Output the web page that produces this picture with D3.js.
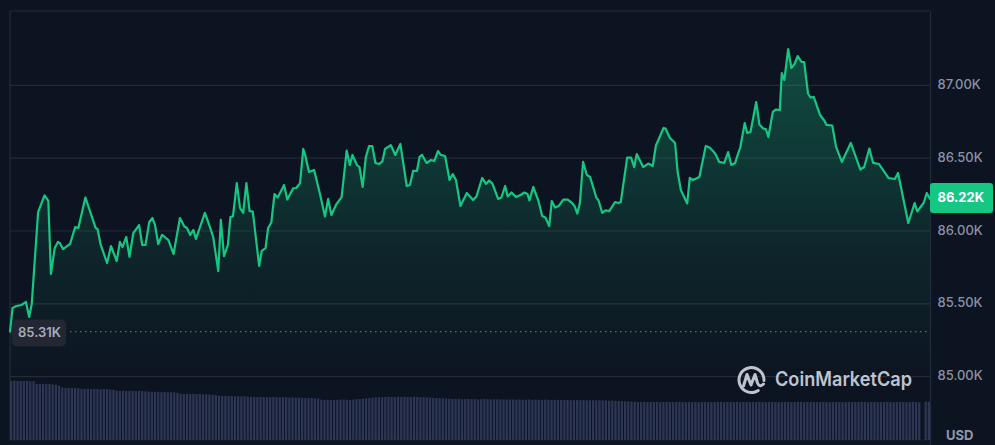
<!DOCTYPE html>
<html><head><meta charset="utf-8">
<script src="https://cdn.jsdelivr.net/npm/d3@7"></script>
<style>html,body{margin:0;padding:0;background:#0d1421;overflow:hidden}svg{display:block}</style>
</head><body>
<svg id="chart" width="995" height="445"></svg>
<script>
// time of each price sample (minutes since the start of the 24h window)
const times = [0,4,10,18,25,30,34,44,54,60,64,70,75,78,83,94,102,107,118,134,137,142,152,158,167,172,176,182,187,193,202,207,212,218,223,227,232,238,248,256,266,273,277,282,287,291,305,313,318,326,330,335,341,345,349,355,360,365,370,375,380,390,394,400,404,409,414,419,429,434,443,448,454,459,462,468,476,485,493,498,503,511,519,527,532,536,543,547,552,557,562,567,572,578,583,587,596,603,611,621,626,631,637,641,645,652,659,664,670,674,681,688,693,698,705,715,725,730,739,745,750,755,764,769,775,779,785,792,799,805,810,813,819,827,833,838,844,848,853,859,866,873,880,884,888,892,897,903,908,918,921,927,932,938,947,952,956,966,972,977,981,991,999,1006,1011,1023,1026,1033,1041,1045,1050,1060,1064,1069,1079,1089,1095,1101,1105,1110,1118,1124,1129,1135,1139,1143,1150,1154,1159,1168,1173,1179,1183,1187,1194,1199,1205,1208,1212,1218,1223,1228,1233,1239,1243,1249,1253,1258,1268,1275,1278,1287,1293,1302,1316,1331,1337,1345,1351,1360,1375,1385,1390,1406,1416,1420,1430,1435,1440];
// BTC price in USD
const prices = [85310,85472,85485,85492,85513,85410,85499,86130,86244,86206,85705,85883,85925,85918,85876,85911,86027,86021,86230,86021,86014,85904,85780,85897,85794,85925,85890,85959,85822,85986,86041,85904,85904,86062,86089,86041,85911,85973,85938,85842,86089,86031,86021,85973,86007,85945,86124,86027,85959,85725,86076,85828,85904,86096,86100,86329,86158,86124,86329,86137,86134,85760,85863,85883,86021,86058,86254,86230,86316,86216,86292,86295,86329,86563,86522,86405,86419,86257,86100,86220,86110,86185,86233,86552,86453,86522,86453,86439,86302,86508,86583,86583,86467,86460,86480,86563,86590,86522,86597,86309,86316,86412,86412,86508,86522,86467,86487,86480,86549,86522,86515,86350,86391,86350,86172,86261,86213,86237,86364,86323,86347,86326,86220,86230,86309,86237,86264,86233,86247,86264,86254,86209,86302,86209,86103,86093,86034,86206,86161,86172,86216,86216,86192,86168,86120,86192,86474,86384,86371,86226,86213,86124,86141,86137,86199,86192,86199,86504,86504,86439,86528,86439,86463,86446,86587,86707,86703,86638,86604,86405,86281,86189,86364,86350,86371,86583,86573,86546,86522,86474,86467,86542,86453,86467,86522,86573,86741,86673,86680,86885,86731,86703,86700,86645,86817,86834,86830,87084,87036,87249,87119,87146,87201,87160,87160,86944,86916,86920,86796,86755,86728,86724,86577,86474,86604,86422,86439,86566,86467,86460,86364,86357,86398,86055,86192,86134,86192,86261,86220];
// traded volume per 5-minute bar (billions USD, rolling)
const volumes = [39.3,39.5,39.2,39.4,39.3,39.4,39.1,39.3,
37.4,37.3,37.5,37.2,37.3,37.0,36.8,36.2,
34.9,34.7,34.8,34.6,34.7,34.5,
34.1,34.0,34.2,33.9,34.0,34.1,33.8,34.0,33.9,33.7,33.6,
32.9,32.7,32.8,32.6,32.7,32.8,32.5,32.7,32.6,32.4,32.3,
32.1,32.0,32.2,31.9,32.0,31.8,31.9,31.7,31.5,
30.9,30.7,30.8,30.6,30.7,30.5,30.6,30.4,30.5,30.3,30.2,30.0,
29.5,29.3,29.4,29.2,29.3,29.1,29.2,29.0,29.1,28.9,
28.8,28.7,28.6,28.8,28.7,28.5,28.6,28.7,28.5,28.4,28.6,28.5,28.3,28.4,28.2,28.3,
28.1,28.0,27.9,28.0,27.8,27.6,
26.9,26.7,26.8,26.6,26.7,26.8,26.9,27.0,26.8,26.7,26.9,27.1,27.3,27.5,27.8,28.0,28.2,28.4,28.5,28.6,
28.7,28.8,28.7,28.6,28.8,28.7,28.9,28.7,28.6,28.8,28.7,28.5,28.6,28.4,28.3,28.1,28.0,27.8,27.7,27.6,27.5,
27.4,27.3,27.4,27.2,27.3,27.4,27.2,27.3,27.1,27.2,27.3,27.1,27.0,27.2,27.1,27.0,
27.0,26.9,27.1,27.0,26.9,27.0,26.8,26.9,27.0,26.8,26.9,26.8,26.7,26.9,26.8,26.7,26.8,26.7,
26.7,26.6,26.7,26.5,26.6,26.7,26.5,26.6,26.4,26.5,26.6,26.4,26.5,26.3,26.4,26.2,26.3,26.1,26.0,25.9,25.8,25.7,25.6,25.5,25.4,
25.3,25.4,25.2,25.3,25.4,25.3,25.2,25.3,25.4,25.3,
25.2,25.3,25.4,25.3,25.2,25.3,25.3,25.4,25.2,25.3,
25.4,25.3,25.2,25.3,25.4,25.3,25.2,25.3,25.4,25.3,
25.3,25.2,25.3,25.4,25.3,25.2,25.3,25.4,25.3,25.2,
25.3,25.4,25.3,25.2,25.3,25.3,25.4,25.2,25.3,25.4,
25.3,25.2,25.3,25.4,25.3,25.2,25.3,25.4,25.3,25.2,
25.3,25.4,25.3,25.2,25.3,25.4,25.3,25.2,25.3,25.4,
25.3,25.2,25.3,25.4,25.3,25.2,25.3,25.4,25.3,25.2,
25.3,25.4,25.3,25.2,25.3,25.4,25.3,
25.1,0,25.6,25.6];
const priceTicks = [85000,85500,86000,86500,87000];
const currency = "USD";
const brand = "CoinMarketCap";

const svg = d3.select("#chart");
const W = 995, H = 445;
const L = 10, R = 930, T = 11, B = 440;

svg.append("rect").attr("width", W).attr("height", H).attr("fill", "#0d1421");

const x = d3.scaleLinear().domain([0, 1440]).range([L, R]);
const y = d3.scaleLinear().domain([85000, 87000]).range([376.7, 85.3]);
const xb = d3.scaleBand().domain(d3.range(volumes.length)).range([L, R]).paddingInner(0.3);
const yv = d3.scaleLinear().domain([0, 40]).range([B, 380]);

const defs = svg.append("defs");
const grad = defs.append("linearGradient").attr("id", "areaGrad")
  .attr("gradientUnits", "userSpaceOnUse").attr("x1", 0).attr("x2", 0).attr("y1", 50).attr("y2", 380);
grad.append("stop").attr("offset", 0).attr("stop-color", "#16c784").attr("stop-opacity", 0.32);
grad.append("stop").attr("offset", 0.6).attr("stop-color", "#16c784").attr("stop-opacity", 0.1);
grad.append("stop").attr("offset", 1).attr("stop-color", "#16c784").attr("stop-opacity", 0.0);

// frame
svg.append("line").attr("x1", L).attr("x2", R).attr("y1", T).attr("y2", T).attr("stroke", "#232a39").attr("stroke-width", 1.2);
svg.append("line").attr("x1", L).attr("x2", L).attr("y1", T).attr("y2", B).attr("stroke", "#232a39").attr("stroke-width", 1.2);
svg.append("line").attr("x1", R + 0.5).attr("x2", R + 0.5).attr("y1", T).attr("y2", H).attr("stroke", "#232a39").attr("stroke-width", 1.2);
svg.append("line").attr("x1", L).attr("x2", R).attr("y1", B).attr("y2", B).attr("stroke", "#1b2230").attr("stroke-width", 1);

// grid
svg.append("g").selectAll("line").data(priceTicks).join("line")
  .attr("x1", L).attr("x2", R).attr("y1", d => y(d)).attr("y2", d => y(d))
  .attr("stroke", "#222a38").attr("stroke-width", 1.2);

// volume bars
svg.append("g").selectAll("rect").data(volumes).join("rect")
  .attr("x", (d, i) => xb(i)).attr("width", xb.bandwidth())
  .attr("y", d => yv(d)).attr("height", d => B - yv(d))
  .attr("fill", "#2e3656");

// area + line
const pts = times.map((t, i) => [t, prices[i]]);
const area = d3.area().x(d => x(d[0])).y0(B).y1(d => y(d[1]));
const line = d3.line().x(d => x(d[0])).y(d => y(d[1]));
svg.append("path").datum(pts).attr("d", area).attr("fill", "url(#areaGrad)");
svg.append("path").datum(pts).attr("d", line).attr("fill", "none")
  .attr("stroke", "#16c784").attr("stroke-width", 2.2).attr("stroke-linejoin", "round").attr("stroke-linecap", "round");

// open price dotted reference line
const open = prices[0];
svg.append("line").attr("x1", 70).attr("x2", R).attr("y1", y(open)).attr("y2", y(open))
  .attr("stroke", "#5f6a80").attr("stroke-width", 1.3).attr("stroke-dasharray", "1.5 3.5");

const fmt = v => d3.format(".2f")(v / 1000) + "K";

// open label
svg.append("rect").attr("x", 12).attr("y", y(open) - 12).attr("width", 54).attr("height", 27).attr("rx", 5)
  .attr("fill", "#222733");
svg.append("text").attr("x", 18).attr("y", y(open) + 1.5).attr("dominant-baseline", "middle")
  .attr("font-family", "Inter, sans-serif").attr("font-size", 13).attr("font-weight", 600)
  .attr("fill", "#a6acbd").text(fmt(open));

// right axis labels
svg.append("g").selectAll("text").data(priceTicks).join("text")
  .attr("x", 937.5).attr("y", d => y(d)).attr("dominant-baseline", "middle")
  .attr("font-family", "Inter, sans-serif").attr("font-size", 13).attr("font-weight", 500)
  .attr("fill", "#8a91a5").text(d => fmt(d));

// current price label
const last = prices[prices.length - 1];
svg.append("rect").attr("x", R).attr("y", y(last) - 16).attr("width", 63).attr("height", 30).attr("rx", 3)
  .attr("fill", "#16c784");
svg.append("text").attr("x", 937.5).attr("y", y(last) - 0.5).attr("dominant-baseline", "middle")
  .attr("font-family", "Inter, sans-serif").attr("font-size", 13).attr("font-weight", 700)
  .attr("fill", "#ffffff").text(fmt(last));

// currency
svg.append("text").attr("x", 946).attr("y", 436).attr("dominant-baseline", "middle")
  .attr("font-family", "Inter, sans-serif").attr("font-size", 13).attr("font-weight", 700)
  .attr("fill", "#9097aa").text(currency);

// watermark logo
const logo = svg.append("g").attr("opacity", 0.9);
const cx = 751.5, cy = 380, r = 12.5;
const arc = d3.arc().innerRadius(r - 1.5).outerRadius(r + 1.5).startAngle(Math.PI * 0.78).endAngle(Math.PI * 2.55).cornerRadius(1.5);
logo.append("path").attr("transform", `translate(${cx},${cy})`).attr("d", arc()).attr("fill", "#d3d7e0");
logo.append("path")
  .attr("d", `M${cx-8},${cy+6} L${cx-4.5},${cy-5.5} L${cx-0.5},${cy+5} L${cx+3.5},${cy-5.5} L${cx+6},${cy+3} Q${cx+8},${cy+8} ${cx+12},${cy+4}`)
  .attr("fill", "none").attr("stroke", "#d3d7e0").attr("stroke-width", 3).attr("stroke-linejoin", "round").attr("stroke-linecap", "round");
logo.append("text").attr("x", 775).attr("y", 381).attr("dominant-baseline", "middle")
  .attr("font-family", "Inter, 'Open Sans', sans-serif").attr("font-size", 20).attr("font-weight", 600)
  .attr("textLength", 137).attr("lengthAdjust", "spacingAndGlyphs")
  .attr("fill", "#d3d7e0").text(brand);
</script>
</body></html>
